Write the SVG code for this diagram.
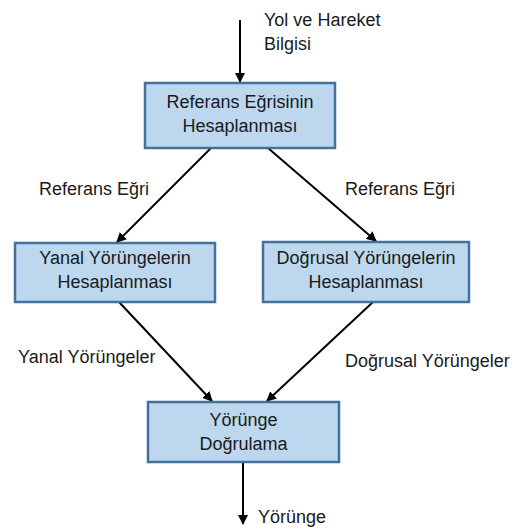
<svg xmlns="http://www.w3.org/2000/svg" width="524" height="529" viewBox="0 0 524 529">
<defs>
<style>
.box{fill:#BDD7EE;stroke:#41719C;stroke-width:2.5}
text{font-family:"Liberation Sans",Arial,sans-serif;font-size:18px;fill:#1a1a1a}
.c{text-anchor:middle}
.ln{stroke:#000;stroke-width:2;fill:none;marker-end:url(#ah)}
</style>
<marker id="ah" viewBox="0 0 10 10" refX="9" refY="5" markerWidth="5" markerHeight="5" orient="auto" markerUnits="strokeWidth">
<path d="M0,0 L10,5 L0,10 z" fill="#000"/>
</marker>
</defs>
<rect width="524" height="529" fill="#fff"/>
<g id="connectors">
<line class="ln" x1="240" y1="20" x2="240" y2="82"/>
<line class="ln" x1="211" y1="148" x2="117" y2="242"/>
<line class="ln" x1="268" y1="148" x2="376" y2="241"/>
<line class="ln" x1="119" y1="302" x2="212" y2="401"/>
<line class="ln" x1="373" y1="302" x2="267" y2="401"/>
<line class="ln" x1="243" y1="462" x2="243" y2="524"/>
</g>
<g id="labels">
<text x="264" y="26">Yol ve Hareket</text>
<text x="264" y="50">Bilgisi</text>
<text x="39" y="195">Referans Eğri</text>
<text x="345" y="195">Referans Eğri</text>
<text x="18" y="363">Yanal Yörüngeler</text>
<text x="345" y="367">Doğrusal Yörüngeler</text>
<text x="258" y="523">Yörünge</text>
</g>
<g id="node-referans">
<rect class="box" x="145" y="83" width="190" height="65"/>
<text class="c" x="240" y="108">Referans Eğrisinin</text>
<text class="c" x="240" y="132">Hesaplanması</text>
</g>
<g id="node-yanal">
<rect class="box" x="15" y="243" width="200" height="59"/>
<text class="c" x="115" y="264">Yanal Yörüngelerin</text>
<text class="c" x="115" y="288">Hesaplanması</text>
</g>
<g id="node-dogrusal">
<rect class="box" x="263" y="242" width="206" height="60"/>
<text class="c" x="366" y="264">Doğrusal Yörüngelerin</text>
<text class="c" x="366" y="288">Hesaplanması</text>
</g>
<g id="node-dogrulama">
<rect class="box" x="148" y="402" width="191" height="60"/>
<text class="c" x="243.5" y="426">Yörünge</text>
<text class="c" x="243.5" y="450">Doğrulama</text>
</g>
</svg>
